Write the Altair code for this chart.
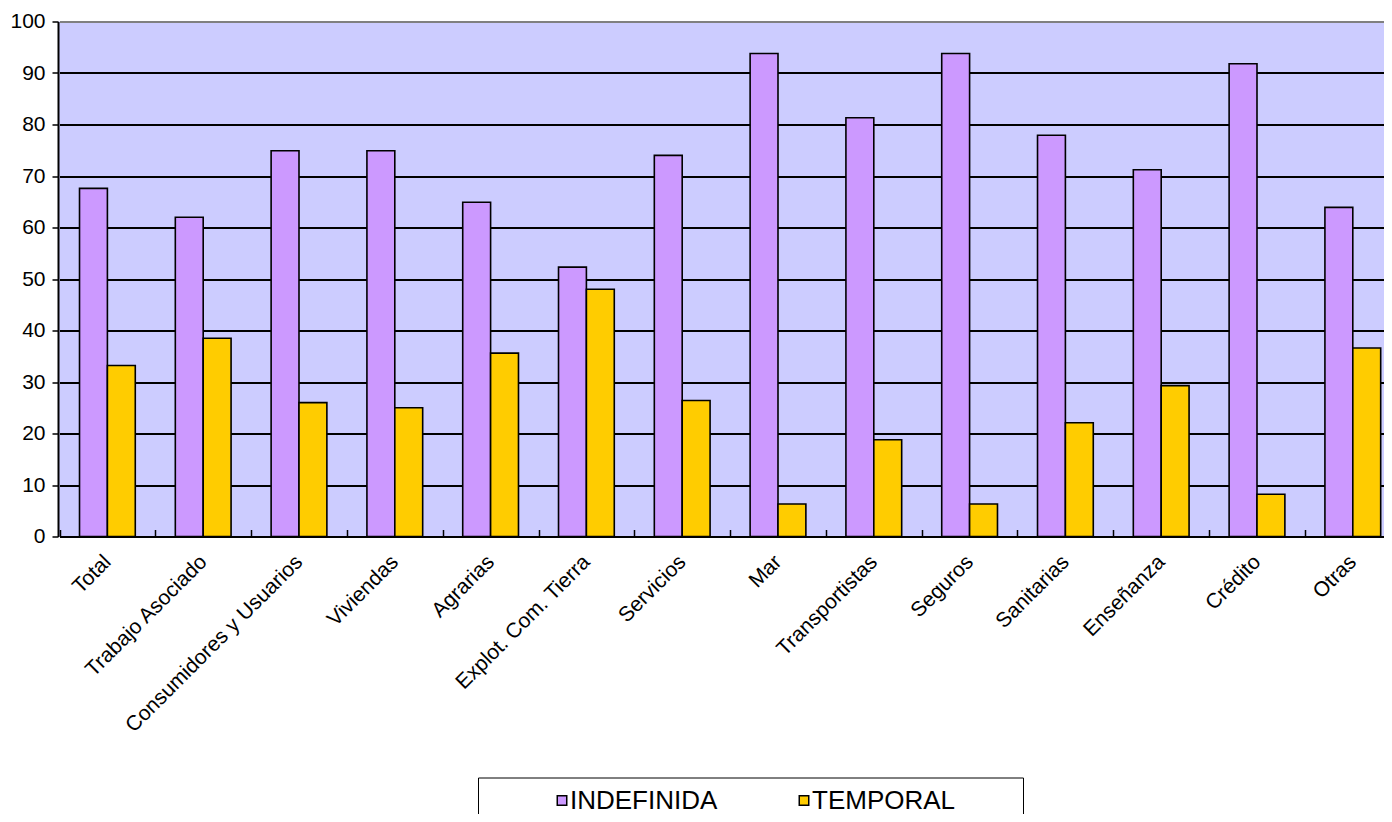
import altair as alt
import pandas as pd

categories = ["Total", "Trabajo Asociado", "Consumidores y Usuarios", "Viviendas",
              "Agrarias", "Explot. Com. Tierra", "Servicios", "Mar", "Transportistas",
              "Seguros", "Sanitarias", "Enseñanza", "Crédito", "Otras"]
indefinida = [67.6, 62.0, 74.9, 74.9, 64.9, 52.3, 74.0, 93.8, 81.3, 93.8, 77.9, 71.2, 91.8, 63.9]
temporal = [33.2, 38.5, 26.0, 25.0, 35.6, 48.0, 26.4, 6.3, 18.8, 6.3, 22.1, 29.3, 8.2, 36.6]
series = ["INDEFINIDA", "TEMPORAL"]
colors = ["#CC99FF", "#FFCC00"]
y_ticks = [0, 10, 20, 30, 40, 50, 60, 70, 80, 90, 100]

rows = []
for i, c in enumerate(categories):
    rows.append({"cat": c, "serie": series[0], "valor": indefinida[i]})
    rows.append({"cat": c, "serie": series[1], "valor": temporal[i]})
df = pd.DataFrame(rows)

FONT = "Liberation Sans"

bars = alt.Chart(df).mark_bar(stroke="black", strokeWidth=1.6).encode(
    x=alt.X("cat:N", sort=categories, title=None,
            scale=alt.Scale(paddingInner=0, paddingOuter=0, range=[1.5, 1342.7]),
            axis=alt.Axis(labelAngle=-45, labelAlign="right", labelBaseline="middle",
                          labelFont=FONT, labelFontSize=21, labelColor="black",
                          labelPadding=22, offset=-7, domain=False, labelLimit=500,
                          ticks=True, tickSize=7, tickColor="black", tickWidth=1.5,
                          tickBand="extent", grid=False)),
    xOffset=alt.XOffset("serie:N", sort=series,
                        scale=alt.Scale(paddingInner=0, paddingOuter=0.718)),
    y=alt.Y("valor:Q", title=None,
            scale=alt.Scale(domain=[0, 100], nice=False),
            axis=alt.Axis(values=y_ticks, labelFont=FONT, labelFontSize=21,
                          labelColor="black", labelPadding=7,
                          domain=True, domainColor="black", domainWidth=2,
                          ticks=True, tickSize=6, tickColor="black", tickWidth=1.5,
                          grid=True, gridWidth=2,
                          gridColor={"condition": {"test": "datum.value == 100", "value": "#808080"},
                                     "value": "black"})),
    fill=alt.Fill("serie:N", sort=series,
                  scale=alt.Scale(domain=series, range=colors),
                  legend=alt.Legend(title=None, orient="none", legendX=420, legendY=756,
                                    direction="horizontal", columns=2,
                                    symbolType="square", symbolSize=90,
                                    symbolStrokeColor="black", symbolStrokeWidth=1.5,
                                    labelFont=FONT, labelFontSize=26, labelColor="black",
                                    labelOffset={"expr": "-5"}, symbolOffset=61, columnPadding=12,
                                    labelExpr="datum.label == 'TEMPORAL' ? datum.label + '\u2800\u2800\u2800' : datum.label",
                                    padding=10, fillColor="white", strokeColor="black",
                                    labelLimit=400)),
)

chart = bars.properties(
    width=1326, height=515,
    autosize=alt.AutoSizeParams(type="none"),
    padding={"left": 50, "top": 13.5, "right": 0, "bottom": 277},
    background="white",
).configure_view(fill="#CCCCFF", stroke=None)

chart.save("out.html", embed_options={"renderer": "svg", "actions": False})
